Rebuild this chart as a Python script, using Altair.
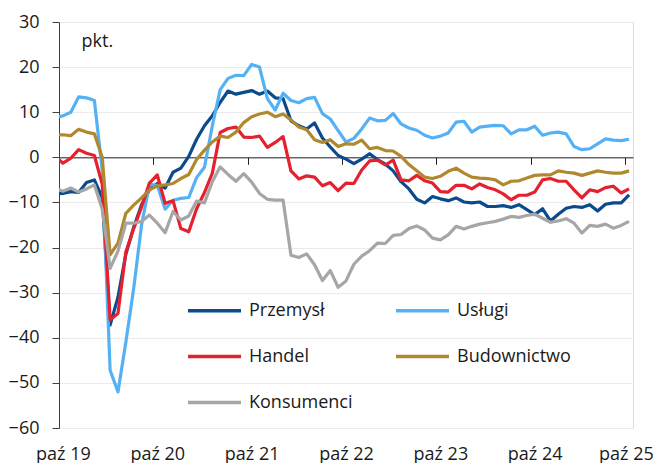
import json
import altair as alt
import pandas as pd

# month index: -1 = wrz 19 (clipped at the axis), 0 = paź 19 ... 72 = paź 25
months = list(range(-1, 73))

przemysl = [-8.1,
    -8.0, -7.6, -7.8, -5.6, -5.0, -9.0, -37.2, -31.0, -21.5, -15.5, -10.5, -7.2,
    -5.8, -6.8, -3.3, -2.4, 0.2, 4.0, 7.0, 9.2, 12.2, 14.7, 14.0, 14.4,
    14.8, 14.0, 14.7, 13.2, 13.0, 8.1, 7.0, 6.3, 7.6, 4.3, 2.3, 0.4,
    -0.4, -1.4, -0.4, 0.8, -0.5, -1.5, -3.0, -5.4, -7.0, -9.3, -10.1, -8.7,
    -9.2, -9.6, -9.0, -9.9, -10.1, -9.9, -10.9, -10.9, -10.7, -11.1, -10.5, -11.6,
    -12.7, -11.4, -14.1, -12.6, -11.3, -10.9, -11.1, -10.5, -11.9, -10.4, -10.1, -10.1,
    -8.3]
uslugi = [8.9,
    9.2, 10.0, 13.4, 13.2, 12.6, -3.0, -47.2, -52.0, -41.0, -29.0, -15.0, -6.0,
    -6.2, -11.5, -9.5, -9.1, -8.9, -4.5, -2.2, 7.0, 15.0, 17.5, 18.2, 18.1,
    20.6, 20.0, 13.0, 10.5, 14.2, 12.6, 12.1, 13.0, 13.3, 9.7, 8.5, 5.9,
    3.4, 4.2, 6.3, 8.7, 8.1, 8.2, 9.7, 7.4, 6.5, 6.0, 4.9, 4.3,
    4.7, 5.4, 7.8, 8.0, 5.6, 6.7, 6.9, 7.1, 7.0, 5.2, 6.1, 6.1,
    6.9, 4.9, 5.4, 5.6, 5.2, 2.4, 1.7, 1.9, 3.0, 4.1, 3.8, 3.7,
    4.0]
handel = [0.3,
    -1.3, -0.2, 1.7, 0.9, 0.4, -6.0, -36.0, -34.6, -21.0, -15.8, -11.0, -5.7,
    -3.9, -10.2, -9.6, -15.8, -16.5, -11.4, -7.8, -3.5, 5.5, 6.4, 6.7, 4.5,
    4.4, 4.7, 2.2, 3.3, 4.6, -3.0, -4.8, -4.1, -4.4, -6.3, -5.6, -7.4,
    -5.7, -5.8, -2.8, -0.8, -0.6, -1.7, -0.6, -5.0, -5.2, -4.0, -5.2, -5.7,
    -7.6, -7.7, -6.2, -6.2, -7.0, -5.9, -6.7, -7.2, -8.1, -9.4, -8.4, -8.4,
    -7.7, -5.0, -4.7, -5.3, -5.3, -7.2, -9.0, -7.2, -7.6, -6.7, -6.4, -7.9,
    -7.0]
budownictwo = [5.0,
    5.0, 4.8, 6.2, 5.6, 5.2, 0.0, -21.6, -19.0, -12.4, -10.6, -9.0, -7.2,
    -6.3, -6.1, -5.8, -4.7, -3.8, -0.5, 1.6, 3.4, 4.7, 4.4, 5.6, 7.7,
    9.0, 9.6, 10.0, 9.0, 9.6, 8.3, 6.7, 6.1, 3.9, 3.3, 3.9, 2.4,
    3.0, 2.9, 3.8, 1.9, 2.2, 1.5, 1.4, 0.2, -1.6, -3.0, -4.4, -4.7,
    -4.2, -3.1, -2.4, -3.5, -4.4, -4.6, -4.7, -5.0, -6.1, -5.3, -5.2, -4.6,
    -4.0, -3.9, -3.9, -3.0, -3.3, -3.5, -4.0, -3.5, -3.0, -3.3, -3.5, -3.5,
    -3.0]
konsumenci = [-6.9,
    -7.5, -6.8, -7.7, -7.0, -6.1, -11.5, -24.6, -20.8, -14.6, -14.6, -14.2, -12.8,
    -14.6, -16.7, -12.0, -13.9, -13.0, -9.7, -10.1, -5.4, -2.1, -3.8, -5.3, -3.6,
    -5.5, -8.0, -9.3, -9.5, -9.5, -21.7, -22.2, -21.4, -23.8, -27.3, -25.1, -28.8,
    -27.4, -23.7, -21.9, -20.7, -19.0, -19.1, -17.3, -17.1, -15.8, -15.2, -16.1, -17.9,
    -18.3, -17.2, -15.3, -15.9, -15.3, -14.8, -14.5, -14.2, -13.7, -13.1, -13.3, -12.9,
    -12.6, -13.5, -14.4, -14.1, -13.6, -14.6, -16.8, -15.1, -15.3, -14.8, -15.7, -15.1,
    -14.2]

series_names = ["Przemysł", "Usługi", "Handel", "Budownictwo", "Konsumenci"]
series_values = [przemysl, uslugi, handel, budownictwo, konsumenci]
colors = ["#0b4a8b", "#55b1f3", "#e5202f", "#b0892e", "#a6a6a6"]

tick_labels = ["paź 19", "paź 20", "paź 21", "paź 22", "paź 23", "paź 24", "paź 25"]
label_pos = [0, 12, 24, 36, 48, 60, 71.6]
tick_edges = [-0.5, 11.5, 23.5, 35.5, 47.5, 59.5, 71.5]

rows = []
for name, vals in zip(series_names, series_values):
    for m, v in zip(months, vals):
        rows.append({"m": m, "v": v, "s": name})
df = pd.DataFrame(rows)

FONT = "Open Sans"
W, H = 574, 406
x_scale = alt.Scale(domain=[-0.5, 72.5], nice=False, zero=False)
y_scale = alt.Scale(domain=[-60, 30], nice=False)

label_expr = json.dumps(tick_labels, ensure_ascii=False) + "[round(datum.value / 12)]"

lines = alt.Chart(df).mark_line(strokeWidth=3.2, clip=True, strokeJoin="round").encode(
    x=alt.X("m:Q", scale=x_scale,
            axis=alt.Axis(orient="bottom", values=label_pos, labelExpr=label_expr,
                          domain=False, ticks=False, grid=False, labelFontSize=18,
                          labelFont=FONT, labelColor="#1a1a1a", labelPadding=17, title=None)),
    y=alt.Y("v:Q", scale=y_scale,
            axis=alt.Axis(values=list(range(-60, 31, 10)), tickSize=7, tickColor="#404040",
                          domainColor="#404040", labelFontSize=18, labelFont=FONT,
                          labelColor="#1a1a1a", labelPadding=13, gridColor="#ebebeb",
                          title="pkt.", titleAngle=0, titleX=22, titleY=24, titleAlign="left",
                          titleBaseline="alphabetic", titleFontSize=18, titleFont=FONT,
                          titleFontWeight="normal", titleColor="#1a1a1a")),
    color=alt.Color("s:N", scale=alt.Scale(domain=series_names, range=colors),
                    legend=alt.Legend(orient="none", legendX=127, legendY=260, columns=2,
                                      direction="horizontal",
                                      title=None, symbolType="stroke", symbolSize=2809,
                                      symbolStrokeWidth=3.5, labelFontSize=18, labelFont=FONT,
                                      labelColor="#1a1a1a", labelOffset=6, rowPadding=8,
                                      columnPadding=36)),
    order=alt.Order("s:N"),
)

zero_df = pd.DataFrame({"m": tick_edges})
zero_axis = alt.Chart(zero_df).mark_point(opacity=0).encode(
    x=alt.X("m:Q", scale=x_scale,
            axis=alt.Axis(orient="bottom", values=tick_edges, labels=False, ticks=True,
                          tickSize=7, tickColor="#222222", domain=True, domainColor="#222222",
                          grid=False, offset=-(H * 60 / 90), title=None)),
)

chart = alt.layer(zero_axis, lines).resolve_axis(x="independent").properties(
    width=W, height=H,
    autosize=alt.AutoSizeParams(type="none"),
    padding={"left": 51, "top": 14, "right": 20, "bottom": 36},
).configure_view(stroke=None).configure(background="white")

chart.save("out.html", embed_options={"renderer": "svg", "actions": False})
